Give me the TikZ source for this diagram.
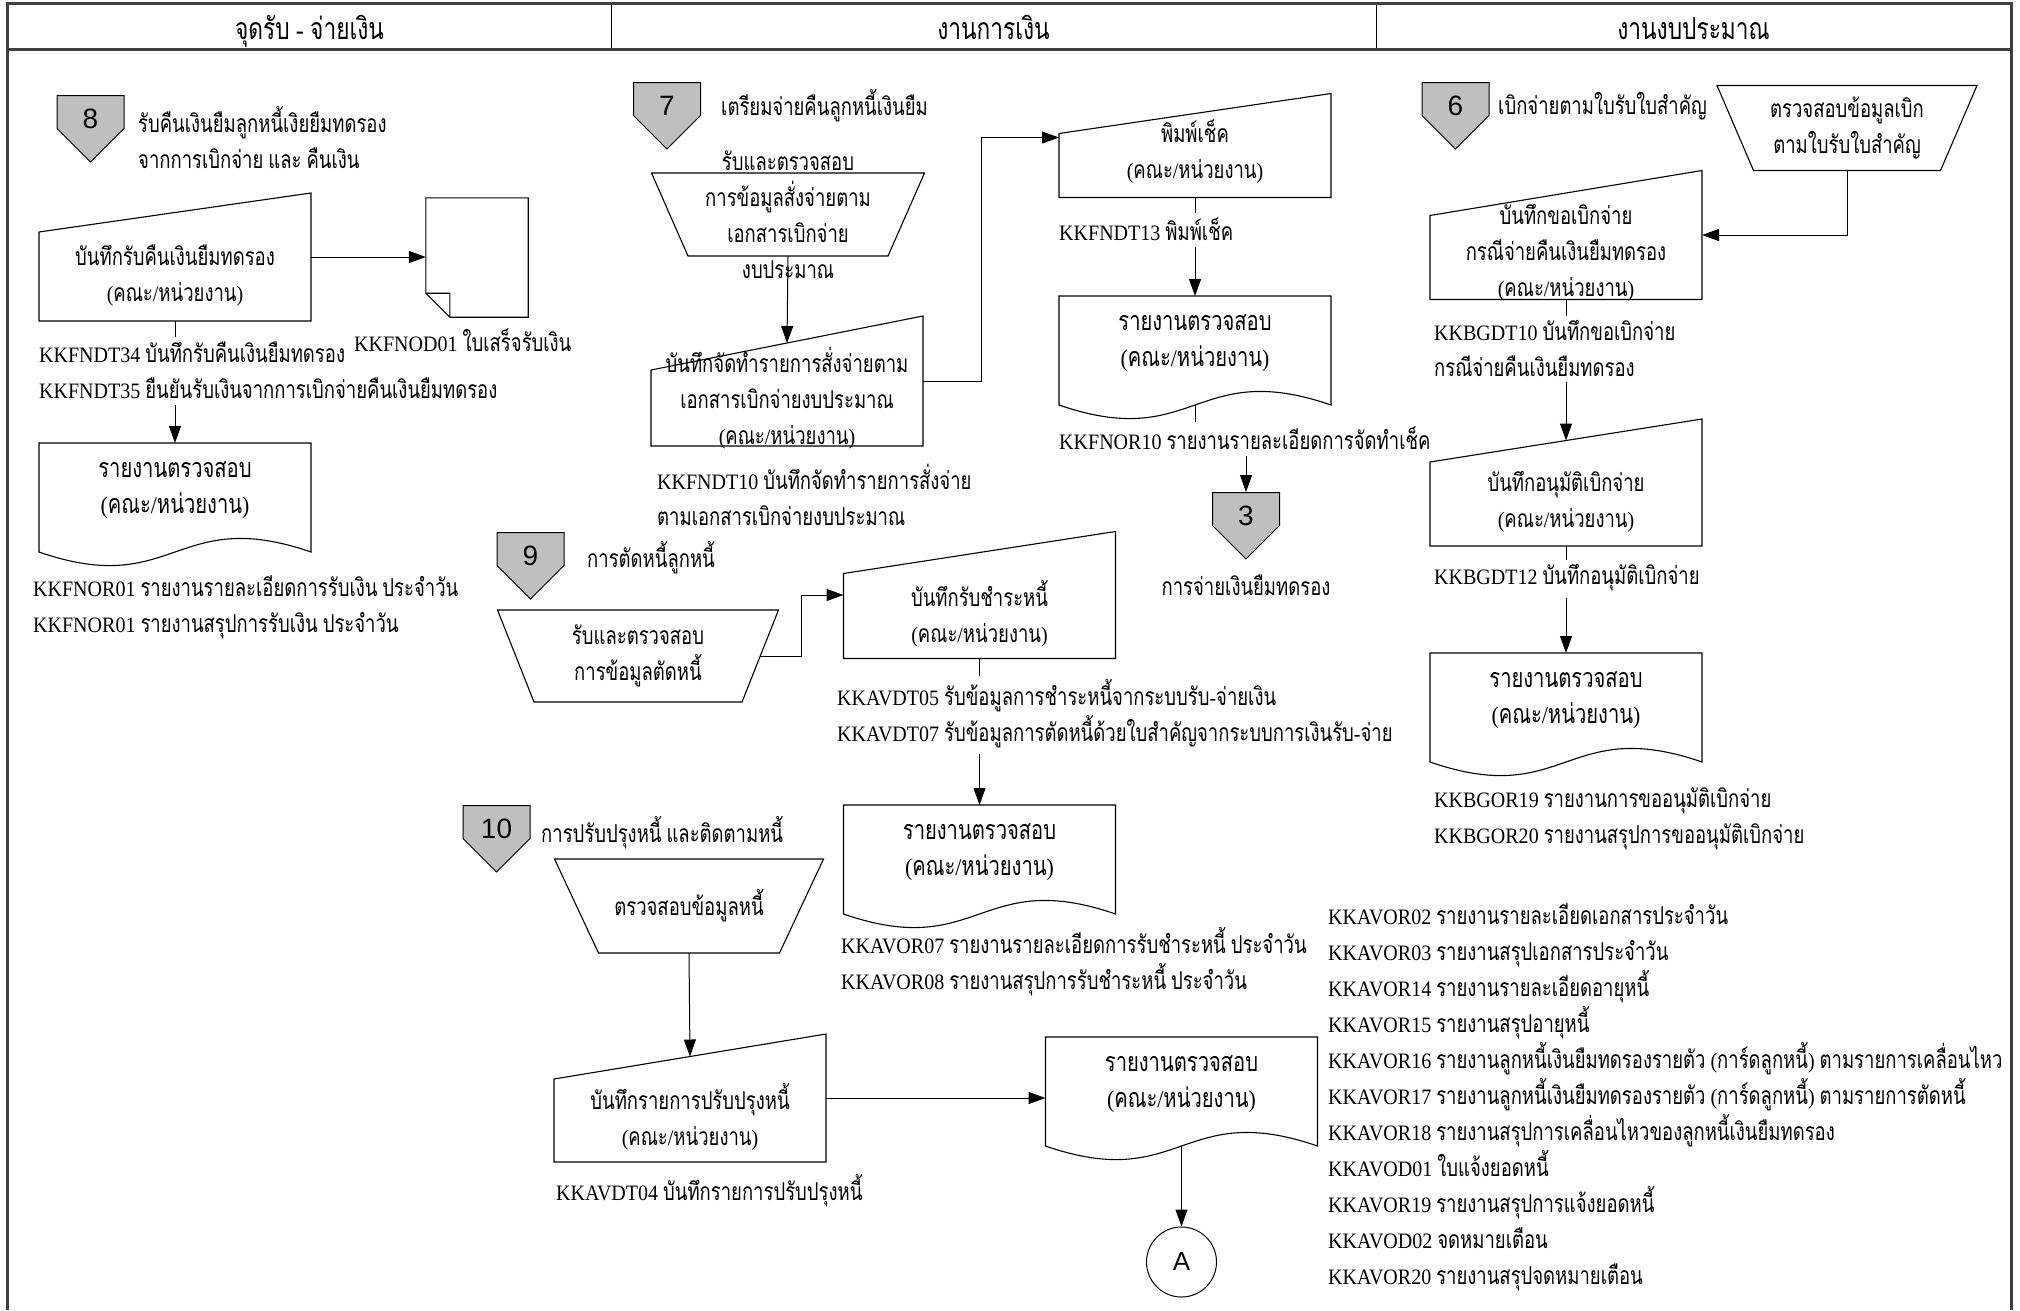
\documentclass[tikz,border=0pt]{standalone}
\usepackage{fontspec}
\setmainfont{Liberation Serif}[FakeStretch=0.91]
\newfontfamily\thaifont{Loma}[Script=Thai,Scale=1.12,FakeStretch=0.75]
\newfontfamily\numfont{Liberation Sans}
\usepackage{tikz}
\usetikzlibrary{arrows.meta, shapes.symbols}

\XeTeXinterchartokenstate=1
\chardef\thaiclass=7
\count255="0E01
\loop
  \XeTeXcharclass\count255=\thaiclass
  \advance\count255 by 1
\ifnum\count255<"0E5C \repeat
\XeTeXinterchartoks 0 \thaiclass={\begingroup\thaifont}
\XeTeXinterchartoks 4095 \thaiclass={\begingroup\thaifont}
\XeTeXinterchartoks \thaiclass 0={\endgroup}
\XeTeXinterchartoks \thaiclass 4095={\endgroup}

\begin{document}
\begin{tikzpicture}[x=1pt, y=-1pt, >={Triangle[length=17pt, width=12pt]},
    shapeline/.style={draw, line width=1.1pt},
    flowtext/.style={align=center, font=\fontsize{22}{36}\selectfont, inner sep=0pt},
    codetext/.style={align=left, anchor=west, font=\fontsize{22}{36}\selectfont, inner sep=0pt},
    lanehead/.style={draw, line width=1pt, minimum height=45pt, inner sep=0pt, text height=31pt, text depth=6pt,
        font=\fontsize{27}{30}\selectfont},
    frame/.style={draw=black!75, line width=2.2pt},
    flow/.style={->, line width=1pt},
    stub/.style={line width=1pt},
    offpage/.style={signal, signal to=south, signal from=nowhere, draw, fill=gray!50, line width=1pt,
        minimum width=67pt, minimum height=36pt, inner sep=0pt, text height=33pt, text depth=0pt,
        font=\numfont\fontsize{28}{30}\selectfont},
    conn/.style={circle, draw, line width=1pt, minimum size=70pt, inner sep=0pt, font=\numfont\fontsize{26}{30}\selectfont},
    manin/.style n args={3}{flowtext, append after command={\pgfextra{\let\shp\tikzlastnode
        \draw[shapeline] ([shift={(-136,#3+#1/2)}]\shp.center) -- ++(272,0) -- ++(0,-#1) -- ++(-272,#2) -- cycle;
        \coordinate (\shp-n) at ([shift={(0,#3-#1/2+#2/2)}]\shp.center);
        \coordinate (\shp-s) at ([shift={(0,#3+#1/2)}]\shp.center);
        \coordinate (\shp-e) at ([shift={(136,#3)}]\shp.center);
        \coordinate (\shp-w) at ([shift={(-136,#3)}]\shp.center);}}},
    manop/.style n args={3}{flowtext, append after command={\pgfextra{\let\shp\tikzlastnode
        \draw[shapeline] ([shift={(-#1/2,-#3/2)}]\shp.center) -- ++(#1,0) -- ([shift={(#2/2,#3/2)}]\shp.center) -- ++(-#2,0) -- cycle;
        \coordinate (\shp-s) at ([shift={(0,#3/2)}]\shp.center);
        \coordinate (\shp-e) at ([shift={(#1/4+#2/4,0)}]\shp.center);}}},
    report/.style={flowtext, font=\fontsize{24}{36}\selectfont, append after command={\pgfextra{\let\shp\tikzlastnode
        \draw[shapeline] ([shift={(-136,-47)}]\shp.center) -- ([shift={(-136,62)}]\shp.center)
            .. controls ([shift={(0,109)}]\shp.center) and ([shift={(0,15)}]\shp.center) .. ([shift={(136,62)}]\shp.center)
            -- ([shift={(136,-47)}]\shp.center) -- cycle;
        \coordinate (\shp-n) at ([shift={(0,-47)}]\shp.center);
        \coordinate (\shp-s) at ([shift={(0,62)}]\shp.center);
        \coordinate (\shp-w) at ([shift={(-136,0)}]\shp.center);}}},
    slip/.style={minimum width=102pt, minimum height=119pt, inner sep=0pt, append after command={\pgfextra{\let\shp\tikzlastnode
        \draw[shapeline] (\shp.north west) -- (\shp.north east) -- (\shp.south east) -- ([xshift=24pt]\shp.south west)
            -- ([yshift=24pt]\shp.south west) -- cycle
            ([yshift=24pt]\shp.south west) -- ++(24,0) -- ([xshift=24pt]\shp.south west);}}}]

\useasboundingbox (0,0) rectangle (2020,1310);
\coordinate (bottom) at (0,1310);

\node[lanehead, minimum width=603pt] (lane1) at (309.5,26.5) {จุดรับ - จ่ายเงิน};
\node[lanehead, minimum width=765pt] (lane2) at (993.5,26.5) {งานการเงิน};
\node[lanehead, minimum width=635pt] (lane3) at (1693.5,26.5) {งานงบประมาณ};
\draw[frame] (lane1.north west |- bottom) -- (lane1.north west) -- (lane3.north east) -- (lane3.north east |- bottom);
\draw[frame] (lane1.south west) -- (lane3.south east);

\node[offpage, anchor=north] (p8) at (90.5,95) {8};
\node[codetext] (t8) at (138,138) {รับคืนเงินยืมลูกหนี้เงิยยืมทดรอง\\จากการเบิกจ่าย และ คืนเงิน};
\node[manin={128}{39}{-18}] (in8) at (175,275) {บันทึกรับคืนเงินยืมทดรอง\\(คณะ/หน่วยงาน)};
\node[slip] (slip8) at (477,257.5) {};
\node[codetext] (k8b) at (354,340) {KKFNOD01 ใบเสร็จรับเงิน};
\node[codetext] (k8a) at (39,370) {KKFNDT34 บันทึกรับคืนเงินยืมทดรอง\\KKFNDT35 ยืนยันรับเงินจากการเบิกจ่ายคืนเงินยืมทดรอง};
\node[report] (rep8) at (175,490) {รายงานตรวจสอบ\\(คณะ/หน่วยงาน)};
\node[codetext] (k8c) at (33,607) {KKFNOR01 รายงานรายละเอียดการรับเงิน ประจำวัน\\KKFNOR01 รายงานสรุปการรับเงิน ประจำวัน};

\draw[flow] (in8-e) -- (in8-e -| slip8.west);
\draw[stub] (in8-s) -- ([yshift=4pt]in8-s |- k8a.north);
\draw[flow] ([yshift=-6pt]in8-s |- k8a.south) -- (rep8-n);

\node[offpage, anchor=north] (p7) at (667,82) {7};
\node[codetext] (t7) at (721,106) {เตรียมจ่ายคืนลูกหนี้เงินยืม};
\node[manop={273}{200}{83}] (chk7) at (788,214.5) {รับและตรวจสอบ\\การข้อมูลสั่งจ่ายตาม\\เอกสารเบิกจ่าย\\งบประมาณ};
\node[manin={130}{54}{-17}] (in7) at (787,398) {บันทึกจัดทำรายการสั่งจ่ายตาม\\เอกสารเบิกจ่ายงบประมาณ\\(คณะ/หน่วยงาน)};
\node[codetext] (k7) at (657,495) {KKFNDT10 บันทึกจัดทำรายการสั่งจ่าย\\ตามเอกสารเบิกจ่ายงบประมาณ};
\node[manin={104}{40}{-6}] (chq) at (1195,151.5) {พิมพ์เช็ค\\(คณะ/หน่วยงาน)};
\node[codetext] (kchq) at (1059,229) {KKFNDT13 พิมพ์เช็ค};
\node[report] (repchq) at (1195,343) {รายงานตรวจสอบ\\(คณะ/หน่วยงาน)};
\node[codetext] (krep) at (1059,438) {KKFNOR10 รายงานรายละเอียดการจัดทำเช็ค};
\node[offpage, anchor=north] (p3) at (1246,492) {3};
\node[flowtext] (t3) at (1246,585) {การจ่ายเงินยืมทดรอง};

\draw[flow] (chk7-s) -- (in7-n);
\draw[flow] (in7-e) -- ++(58,0) |- ([yshift=8pt]chq-w);
\draw[stub] (chq-s) -- ([yshift=4pt]chq-s |- kchq.north);
\draw[flow] ([yshift=-6pt]chq-s |- kchq.south) -- (repchq-n);
\draw[stub] (repchq-s) -- ([yshift=4pt]repchq-s |- krep.north);
\draw[flow] ([yshift=-6pt]p3 |- krep.south) -- (p3.north);

\node[offpage, anchor=north] (p9) at (530.5,532) {9};
\node[codetext] (t9) at (587,558) {การตัดหนี้ลูกหนี้};
\node[manop={281}{208}{92}] (chk9) at (638,656) {รับและตรวจสอบ\\การข้อมูลตัดหนี้};
\node[manin={127}{42}{-19}] (in9) at (979.5,614) {บันทึกรับชำระหนี้\\(คณะ/หน่วยงาน)};
\node[codetext] (k9a) at (837,714) {KKAVDT05 รับข้อมูลการชำระหนี้จากระบบรับ-จ่ายเงิน\\KKAVDT07 รับข้อมูลการตัดหนี้ด้วยใบสำคัญจากระบบการเงินรับ-จ่าย};
\node[report] (rep9) at (979.5,852) {รายงานตรวจสอบ\\(คณะ/หน่วยงาน)};
\node[codetext] (k9b) at (841,962) {KKAVOR07 รายงานรายละเอียดการรับชำระหนี้ ประจำวัน\\KKAVOR08 รายงานสรุปการรับชำระหนี้ ประจำวัน};

\draw[flow] (chk9-e) -- ++(41,0) |- (in9-w);
\draw[stub] (in9-s) -- ([yshift=4pt]in9-s |- k9a.north);
\draw[flow] ([yshift=-6pt]in9-s |- k9a.south) -- (rep9-n);

\node[offpage, anchor=north] (p10) at (496.5,805) {10};
\node[codetext] (t10) at (541,833) {การปรับปรุงหนี้ และติดตามหนี้};
\node[manop={269}{181}{94}] (chk10) at (689,906) {ตรวจสอบข้อมูลหนี้};
\node[manin={128}{45}{-19}] (in10) at (690,1117) {บันทึกรายการปรับปรุงหนี้\\(คณะ/หน่วยงาน)};
\node[codetext] (k10a) at (556,1191) {KKAVDT04 บันทึกรายการปรับปรุงหนี้};
\node[report] (rep10) at (1181.5,1084) {รายงานตรวจสอบ\\(คณะ/หน่วยงาน)};
\node[conn] (A) at (1181.5,1262) {A};
\node[codetext] (k10b) at (1328,1097) {KKAVOR02 รายงานรายละเอียดเอกสารประจำวัน\\KKAVOR03 รายงานสรุปเอกสารประจำวัน\\KKAVOR14 รายงานรายละเอียดอายุหนี้\\KKAVOR15 รายงานสรุปอายุหนี้\\KKAVOR16 รายงานลูกหนี้เงินยืมทดรองรายตัว (การ์ดลูกหนี้) ตามรายการเคลื่อนไหว\\KKAVOR17 รายงานลูกหนี้เงินยืมทดรองรายตัว (การ์ดลูกหนี้) ตามรายการตัดหนี้\\KKAVOR18 รายงานสรุปการเคลื่อนไหวของลูกหนี้เงินยืมทดรอง\\KKAVOD01 ใบแจ้งยอดหนี้\\KKAVOR19 รายงานสรุปการแจ้งยอดหนี้\\KKAVOD02 จดหมายเตือน\\KKAVOR20 รายงานสรุปจดหมายเตือน};

\draw[flow] (chk10-s) -- (in10-n);
\draw[flow] (in10-e) -- (in10-e -| rep10-w);
\draw[flow] (rep10-s) -- (A);

\node[offpage, anchor=north] (p6) at (1455.5,82) {6};
\node[codetext] (t6) at (1498,106) {เบิกจ่ายตามใบรับใบสำคัญ};
\node[manop={260}{187}{85}] (chk6) at (1847,128) {ตรวจสอบข้อมูลเบิก\\ตามใบรับใบสำคัญ};
\node[manin={129}{45}{-18}] (in6a) at (1566,253) {บันทึกขอเบิกจ่าย\\กรณีจ่ายคืนเงินยืมทดรอง\\(คณะ/หน่วยงาน)};
\node[codetext] (k6a) at (1434,348) {KKBGDT10 บันทึกขอเบิกจ่าย\\กรณีจ่ายคืนเงินยืมทดรอง};
\node[manin={127}{43}{-19}] (in6b) at (1566,501.5) {บันทึกอนุมัติเบิกจ่าย\\(คณะ/หน่วยงาน)};
\node[codetext] (k6b) at (1434,578) {KKBGDT12 บันทึกอนุมัติเบิกจ่าย};
\node[report] (rep6) at (1566,700) {รายงานตรวจสอบ\\(คณะ/หน่วยงาน)};
\node[codetext] (k6c) at (1434,819) {KKBGOR19 รายงานการขออนุมัติเบิกจ่าย\\KKBGOR20 รายงานสรุปการขออนุมัติเบิกจ่าย};

\draw[flow] (chk6-s) |- (in6a-e);
\draw[stub] (in6a-s) -- ([yshift=4pt]in6a-s |- k6a.north);
\draw[flow] ([yshift=-6pt]in6a-s |- k6a.south) -- (in6b-n);
\draw[stub] (in6b-s) -- ([yshift=4pt]in6b-s |- k6b.north);
\draw[flow] ([yshift=-6pt]in6b-s |- k6b.south) -- (rep6-n);
\end{tikzpicture}
\end{document}
